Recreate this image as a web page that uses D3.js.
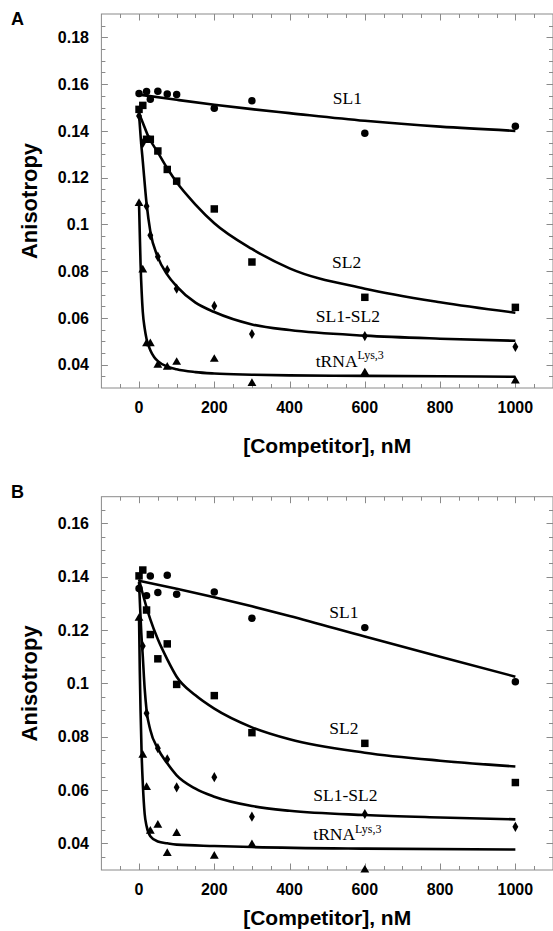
<!DOCTYPE html>
<html>
<head>
<meta charset="utf-8">
<script src="https://d3js.org/d3.v7.min.js"></script>
<style>
  html, body { margin: 0; padding: 0; background: #fff; }
  svg { display: block; }
</style>
</head>
<body>
<svg id="chart" width="553" height="931"></svg>
<script>
// ---------------- DATA ----------------
// Panel A: measured points (x = competitor nM, y = anisotropy)
const aSL1X   = [0, 20, 30, 50, 75, 100, 200, 300, 600, 1000];
const aSL1Y   = [0.156, 0.1568, 0.1535, 0.157, 0.1558, 0.1556, 0.1497, 0.1529, 0.139, 0.142];
const aSL2X   = [0, 10, 20, 30, 50, 75, 100, 200, 300, 600, 1000];
const aSL2Y   = [0.1492, 0.1509, 0.1364, 0.1364, 0.1314, 0.1235, 0.1185, 0.1066, 0.0839, 0.0688, 0.0645];
const aSL12X  = [0, 10, 20, 30, 50, 75, 100, 200, 300, 600, 1000];
const aSL12Y  = [0.1464, 0.1347, 0.1078, 0.0953, 0.0862, 0.0805, 0.0725, 0.0651, 0.0531, 0.0522, 0.0476];
const aTRX    = [0, 10, 20, 30, 50, 75, 100, 200, 300, 600, 1000];
const aTRY    = [0.109, 0.0805, 0.049, 0.049, 0.0398, 0.0389, 0.041, 0.0423, 0.032, 0.0365, 0.033];

// Panel A: fitted curves
const aFitSL1X  = [0, 100, 200, 300, 400, 600, 800, 1000];
const aFitSL1Y  = [0.1555, 0.1533, 0.1512, 0.1493, 0.1476, 0.1443, 0.1418, 0.1400];
const aFitSL2X  = [0, 10, 25, 50, 75, 100, 150, 200, 300, 400, 600, 800, 1000];
const aFitSL2Y  = [0.1475, 0.1435, 0.1375, 0.1308, 0.124, 0.118, 0.1085, 0.1005, 0.0895, 0.0812, 0.0725, 0.0667, 0.0622];
const aFitSL12X = [0, 5, 10, 20, 30, 50, 75, 100, 150, 200, 300, 400, 600, 800, 1000];
const aFitSL12Y = [0.147, 0.136, 0.127, 0.109, 0.097, 0.086, 0.0785, 0.0735, 0.0665, 0.0625, 0.0572, 0.0548, 0.0524, 0.0511, 0.0502];
const aFitTRX   = [0, 2, 4, 7, 10, 15, 20, 30, 40, 50, 75, 100, 150, 200, 300, 400, 600, 800, 1000];
const aFitTRY   = [0.109, 0.096, 0.0835, 0.071, 0.0625, 0.0555, 0.051, 0.0462, 0.0433, 0.0415, 0.0392, 0.038, 0.0368, 0.0362, 0.0357, 0.0354, 0.0352, 0.035, 0.0348];

// Panel B: measured points
const bSL1X   = [0, 20, 30, 50, 75, 100, 200, 300, 600, 1000];
const bSL1Y   = [0.1356, 0.1329, 0.1403, 0.1341, 0.1405, 0.1334, 0.1343, 0.1244, 0.1209, 0.1006];
const bSL2X   = [0, 10, 20, 30, 50, 75, 100, 200, 300, 600, 1000];
const bSL2Y   = [0.1403, 0.1425, 0.1275, 0.1183, 0.1092, 0.1148, 0.0996, 0.0954, 0.0815, 0.0775, 0.0628];
const bSL12X  = [0, 10, 20, 50, 75, 100, 200, 300, 600, 1000];
const bSL12Y  = [0.1356, 0.114, 0.0888, 0.0757, 0.0715, 0.061, 0.0648, 0.050, 0.051, 0.0462];
const bTRX    = [0, 10, 20, 30, 50, 75, 100, 200, 300, 600];
const bTRY    = [0.1244, 0.0731, 0.061, 0.0446, 0.0468, 0.0362, 0.0437, 0.0352, 0.0395, 0.030];

// Panel B: fitted curves
const bFitSL1X  = [0, 100, 200, 300, 400, 600, 800, 1000];
const bFitSL1Y  = [0.1385, 0.1355, 0.1323, 0.1289, 0.1253, 0.1176, 0.1100, 0.1025];
const bFitSL2X  = [0, 10, 20, 30, 50, 75, 100, 150, 200, 300, 400, 600, 800, 1000];
const bFitSL2Y  = [0.139, 0.1335, 0.1285, 0.124, 0.1165, 0.109, 0.1025, 0.0955, 0.0905, 0.0835, 0.079, 0.0740, 0.0710, 0.0688];
const bFitSL12X = [0, 3, 6, 10, 15, 20, 30, 50, 75, 100, 150, 200, 300, 400, 600, 800, 1000];
const bFitSL12Y = [0.138, 0.128, 0.119, 0.110, 0.098, 0.090, 0.0825, 0.0755, 0.070, 0.0655, 0.0605, 0.0575, 0.054, 0.0522, 0.0506, 0.0497, 0.049];
const bFitTRX   = [0, 2, 4, 7, 10, 15, 20, 30, 50, 75, 100, 200, 300, 600, 1000];
const bFitTRY   = [0.125, 0.105, 0.090, 0.073, 0.0625, 0.051, 0.0465, 0.0427, 0.0407, 0.040, 0.0395, 0.039, 0.0386, 0.038, 0.0377];

// Tick labels
const xTicks  = [0, 200, 400, 600, 800, 1000];
const aYTicks = [0.04, 0.06, 0.08, 0.1, 0.12, 0.14, 0.16, 0.18];
const bYTicks = [0.04, 0.06, 0.08, 0.1, 0.12, 0.14, 0.16];
const seriesNames = ["SL1", "SL2", "SL1-SL2", "tRNA"];

// ---------------- LAYOUT ----------------
const svg = d3.select("#chart");
const AX = "'Liberation Sans', Arial, sans-serif";
const SERIF = "'Liberation Serif', 'Times New Roman', serif";

const panels = [
  {
    letter: "A", top: 14, bottom: 388, yDomain: [0.03, 0.19], yTicks: aYTicks,
    letterY: 25, titleY: 453,
    series: [
      {name: "SL1", px: aSL1X, py: aSL1Y, fx: aFitSL1X, fy: aFitSL1Y, shape: "circle"},
      {name: "SL2", px: aSL2X, py: aSL2Y, fx: aFitSL2X, fy: aFitSL2Y, shape: "square"},
      {name: "SL1-SL2", px: aSL12X, py: aSL12Y, fx: aFitSL12X, fy: aFitSL12Y, shape: "diamond"},
      {name: "tRNA", px: aTRX, py: aTRY, fx: aFitTRX, fy: aFitTRY, shape: "triangle"}
    ],
    labels: [[515, 0.1515], [513, 0.0812], [469.5, 0.0584], [469.5, 0.0391]]
  },
  {
    letter: "B", top: 496.7, bottom: 870, yDomain: [0.03, 0.17], yTicks: bYTicks,
    letterY: 498, titleY: 925,
    series: [
      {name: "SL1", px: bSL1X, py: bSL1Y, fx: bFitSL1X, fy: bFitSL1Y, shape: "circle"},
      {name: "SL2", px: bSL2X, py: bSL2Y, fx: bFitSL2X, fy: bFitSL2Y, shape: "square"},
      {name: "SL1-SL2", px: bSL12X, py: bSL12Y, fx: bFitSL12X, fy: bFitSL12Y, shape: "diamond"},
      {name: "tRNA", px: bTRX, py: bTRY, fx: bFitTRX, fy: bFitTRY, shape: "triangle"}
    ],
    labels: [[505.5, 0.1244], [505.5, 0.081], [463, 0.0559], [463, 0.0411]]
  }
];

const left = 101.4, right = 553;
const frameColor = "#8a8a8a";

const symbolMap = {
  circle:   d3.symbol().type(d3.symbolCircle).size(44),
  square:   d3.symbol().type(d3.symbolSquare).size(56),
  diamond:  d3.symbol().type(d3.symbolDiamond).size(30),
  triangle: d3.symbol().type(d3.symbolTriangle).size(34)
};

panels.forEach(p => {
  const x = d3.scaleLinear().domain([-100, 1100]).range([left, right]);
  const y = d3.scaleLinear().domain(p.yDomain).range([p.bottom, p.top]);
  const g = svg.append("g");

  const xMinor = d3.range(-50, 1100, 50);
  const yMinor = d3.range(Math.round(p.yDomain[0] * 1000) + 5, Math.round(p.yDomain[1] * 1000), 5).map(v => v / 1000);
  const isMajorX = v => v % 200 === 0;
  const isMajorY = v => Math.abs(Math.round(v * 1000) % 20) === 0;

  // axes with inward ticks (bottom / top / left / right)
  const tickG = g.append("g").attr("stroke", frameColor).attr("stroke-width", 1);
  xMinor.forEach(v => {
    const len = isMajorX(v) ? 6.5 : 4;
    const xx = Math.round(x(v)) + 0.5;
    tickG.append("line").attr("x1", xx).attr("x2", xx).attr("y1", p.bottom).attr("y2", p.bottom - len);
    tickG.append("line").attr("x1", xx).attr("x2", xx).attr("y1", p.top).attr("y2", p.top + len);
  });
  yMinor.forEach(v => {
    const len = isMajorY(v) ? 6.5 : 4;
    const yy = Math.round(y(v)) + 0.5;
    tickG.append("line").attr("x1", left).attr("x2", left + len).attr("y1", yy).attr("y2", yy);
    tickG.append("line").attr("x1", right).attr("x2", right - len).attr("y1", yy).attr("y2", yy);
  });

  // frame
  g.append("rect")
    .attr("x", left).attr("y", p.top)
    .attr("width", right - left).attr("height", p.bottom - p.top)
    .attr("fill", "none").attr("stroke", frameColor).attr("stroke-width", 1);

  // tick labels
  g.selectAll(".xl").data(xTicks).enter().append("text")
    .attr("x", d => x(d)).attr("y", p.bottom + 24.5)
    .attr("text-anchor", "middle")
    .attr("font-family", AX).attr("font-weight", "bold").attr("font-size", 16)
    .text(d => d);
  g.selectAll(".yl").data(p.yTicks).enter().append("text")
    .attr("x", 89).attr("y", d => y(d))
    .attr("dy", "0.36em")
    .attr("text-anchor", "end")
    .attr("font-family", AX).attr("font-weight", "bold").attr("font-size", 16)
    .text(d => String(+d.toFixed(2)));

  // axis titles
  g.append("text")
    .attr("x", (left + right) / 2).attr("y", p.titleY)
    .attr("text-anchor", "middle")
    .attr("font-family", AX).attr("font-weight", "bold").attr("font-size", 21)
    .text("[Competitor], nM");
  g.append("text")
    .attr("transform", `translate(37,${(p.top + p.bottom) / 2}) rotate(-90)`)
    .attr("text-anchor", "middle")
    .attr("font-family", AX).attr("font-weight", "bold").attr("font-size", 22)
    .text("Anisotropy");

  // panel letter
  g.append("text")
    .attr("x", 11).attr("y", p.letterY)
    .attr("font-family", AX).attr("font-weight", "bold").attr("font-size", 18)
    .text(p.letter);

  // curves
  const line = d3.line().x(d => x(d[0])).y(d => y(d[1])).curve(d3.curveMonotoneX);
  p.series.forEach(s => {
    g.append("path")
      .datum(d3.zip(s.fx, s.fy))
      .attr("d", line)
      .attr("fill", "none").attr("stroke", "#000").attr("stroke-width", 2.6)
      .attr("stroke-linejoin", "round");
  });

  // points
  p.series.forEach(s => {
    g.selectAll(null).data(d3.zip(s.px, s.py)).enter().append("path")
      .attr("d", symbolMap[s.shape])
      .attr("transform", d => `translate(${x(d[0])},${y(d[1])})`)
      .attr("fill", "#000");
  });

  // series labels
  p.series.forEach((s, i) => {
    const [lx, ly] = p.labels[i];
    const t = g.append("text")
      .attr("x", x(lx)).attr("y", y(ly))
      .attr("font-family", SERIF).attr("font-size", 17.5).attr("fill", "#000");
    if (s.name === "tRNA") {
      t.append("tspan").text("tRNA");
      t.append("tspan").attr("dy", -7.5).attr("font-size", 12).text("Lys,3");
    } else {
      t.text(s.name);
    }
  });
});
</script>
</body>
</html>
